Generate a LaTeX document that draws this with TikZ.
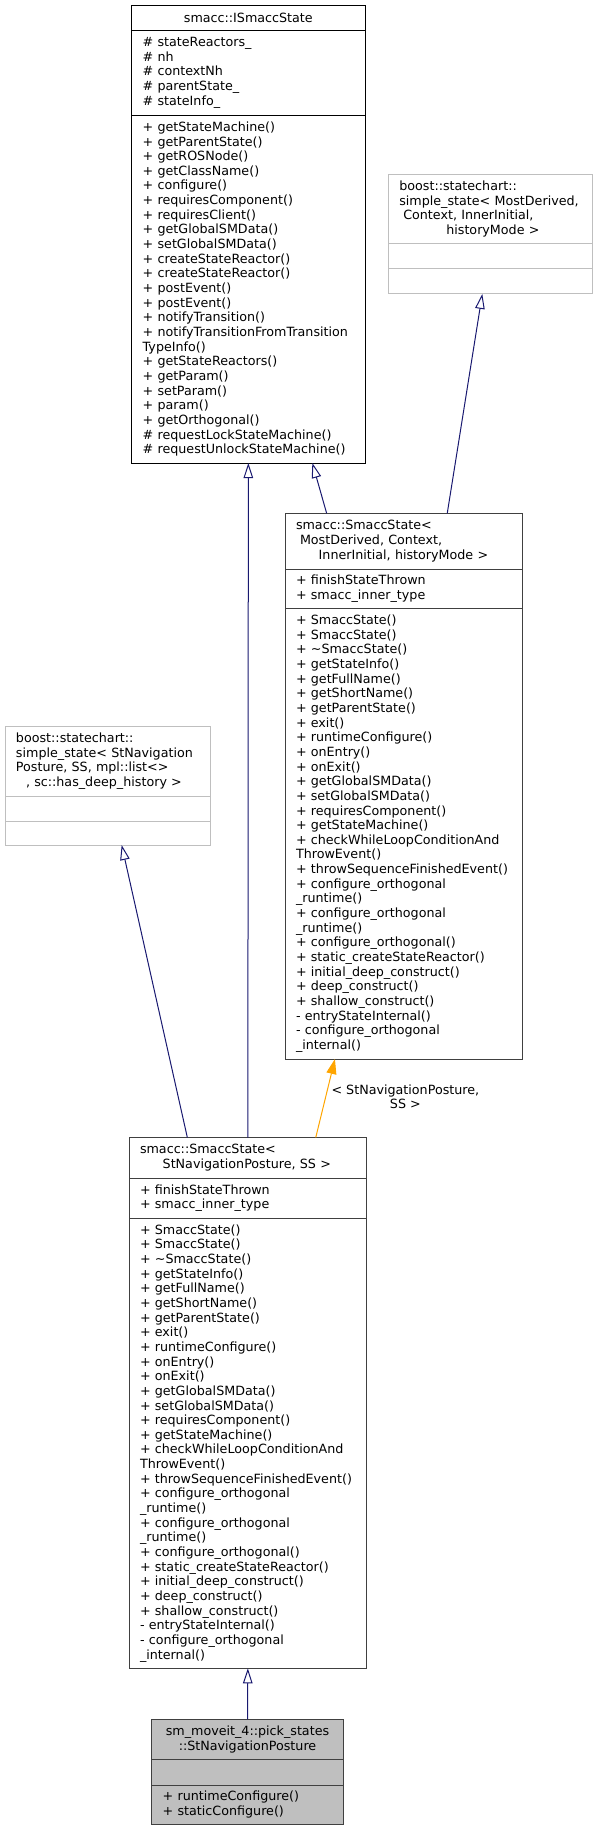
\documentclass[tikz,border=0pt]{standalone}
\usepackage{fontspec}
\setmainfont{DejaVu Sans}
\usetikzlibrary{arrows.meta,positioning}
\usepackage{xcolor}
\definecolor{edgeblue}{HTML}{191970}
\definecolor{edgeorange}{HTML}{FFA500}
\definecolor{boxgray}{HTML}{404040}
\definecolor{faintgray}{HTML}{BFBFBF}
\newcommand\classfont{\fontsize{12.7}{14.65}\selectfont\hyphenpenalty=10000\exhyphenpenalty=10000}

\begin{document}
\begin{tikzpicture}[
  x=1pt, y=-1pt,
  node distance=0pt,
  part/.style={draw=boxgray, line width=1pt, outer sep=0pt,
    inner xsep=11pt, inner ysep=0pt, align=left, text width=#1, font=\classfont},
  faint/.style={draw=faintgray},
  current/.style={fill=faintgray},
  baseedge/.style={draw=edgeblue, line width=1pt,
    -{Triangle[open, length=15pt, width=9.5pt]}},
  tmpledge/.style={draw=edgeorange, line width=1pt,
    -{Triangle[length=15pt, width=10pt]}},
  lbl/.style={font=\classfont, align=center}
]
\useasboundingbox (0,0) rectangle (601,1831);

% smacc::ISmaccState
\node[part=211.3pt, draw=black, align=center, minimum height=25.7pt, anchor=north west] (ismacc) at (131.7,5) {smacc::ISmaccState};
\node[part=211.3pt, draw=black, minimum height=84.3pt, below=of ismacc] (ismaccattr) {\# stateReactors\_\\\# nh\\\# contextNh\\\# parentState\_\\\# stateInfo\_};
\node[part=211.3pt, draw=black, minimum height=348pt, below=of ismaccattr] (ismaccops) {+ getStateMachine()\\+ getParentState()\\+ getROSNode()\\+ getClassName()\\+ configure()\\+ requiresComponent()\\+ requiresClient()\\+ getGlobalSMData()\\+ setGlobalSMData()\\+ createStateReactor()\\+ createStateReactor()\\+ postEvent()\\+ postEvent()\\+ notifyTransition()\\+ notifyTransitionFromTransition\\TypeInfo()\\+ getStateReactors()\\+ getParam()\\+ setParam()\\+ param()\\+ getOrthogonal()\\\# requestLockStateMachine()\\\# requestUnlockStateMachine()};

% boost::statechart::simple_state (generic)
\node[part=182.4pt, faint, minimum height=69.6pt, anchor=north west] (boostr) at (388.3,174.3) {boost::statechart::\\simple\_state< MostDerived,\\\hspace*{4pt}Context, InnerInitial,\\\hspace*{47pt}historyMode >};
\node[part=182.4pt, faint, minimum height=25pt, below=of boostr] (boostrattr) {};
\node[part=182.4pt, faint, minimum height=25pt, below=of boostrattr] (boostrops) {};

% boost::statechart::simple_state (StNavigationPosture)
\node[part=183.7pt, faint, minimum height=70pt, anchor=north west] (boostl) at (5,726) {boost::statechart::\\simple\_state< StNavigation\\Posture, SS, mpl::list<>\\\hspace*{10pt}, sc::has\_deep\_history >};
\node[part=183.7pt, faint, minimum height=25pt, below=of boostl] (boostlattr) {};
\node[part=183.7pt, faint, minimum height=24pt, below=of boostlattr] (boostlops) {};

% smacc::SmaccState< MostDerived, ... >
\node[part=215.3pt, minimum height=55.7pt, anchor=north west] (generic) at (285,513.3) {smacc::SmaccState<\\\hspace*{4pt}MostDerived, Context,\\\hspace*{22.7pt}InnerInitial, historyMode >};
\node[part=215.3pt, minimum height=39.3pt, below=of generic] (genericattr) {+ finishStateThrown\\+ smacc\_inner\_type};
\node[part=215.3pt, minimum height=450.7pt, below=of genericattr] (genericops) {+ SmaccState()\\+ SmaccState()\\+ \textasciitilde SmaccState()\\+ getStateInfo()\\+ getFullName()\\+ getShortName()\\+ getParentState()\\+ exit()\\+ runtimeConfigure()\\+ onEntry()\\+ onExit()\\+ getGlobalSMData()\\+ setGlobalSMData()\\+ requiresComponent()\\+ getStateMachine()\\+ checkWhileLoopConditionAnd\\ThrowEvent()\\+ throwSequenceFinishedEvent()\\+ configure\_orthogonal\\\_runtime()\\+ configure\_orthogonal\\\_runtime()\\+ configure\_orthogonal()\\+ static\_createStateReactor()\\+ initial\_deep\_construct()\\+ deep\_construct()\\+ shallow\_construct()\\- entryStateInternal()\\- configure\_orthogonal\\\_internal()};

% smacc::SmaccState< StNavigationPosture, SS >
\node[part=215.7pt, minimum height=40.8pt, anchor=north west] (navstate) at (129,1137.5) {smacc::SmaccState<\\\hspace*{22.7pt}StNavigationPosture, SS >};
\node[part=215.7pt, minimum height=40pt, below=of navstate] (navstateattr) {+ finishStateThrown\\+ smacc\_inner\_type};
\node[part=215.7pt, minimum height=450pt, below=of navstateattr] (navstateops) {+ SmaccState()\\+ SmaccState()\\+ \textasciitilde SmaccState()\\+ getStateInfo()\\+ getFullName()\\+ getShortName()\\+ getParentState()\\+ exit()\\+ runtimeConfigure()\\+ onEntry()\\+ onExit()\\+ getGlobalSMData()\\+ setGlobalSMData()\\+ requiresComponent()\\+ getStateMachine()\\+ checkWhileLoopConditionAnd\\ThrowEvent()\\+ throwSequenceFinishedEvent()\\+ configure\_orthogonal\\\_runtime()\\+ configure\_orthogonal\\\_runtime()\\+ configure\_orthogonal()\\+ static\_createStateReactor()\\+ initial\_deep\_construct()\\+ deep\_construct()\\+ shallow\_construct()\\- entryStateInternal()\\- configure\_orthogonal\\\_internal()};

% sm_moveit_4::pick_states::StNavigationPosture
\node[part=169.6pt, current, align=center, minimum height=39.7pt, anchor=north west] (posture) at (151.7,1719.3) {sm\_moveit\_4::pick\_states\\::StNavigationPosture};
\node[part=169.6pt, current, minimum height=26pt, below=of posture] (postureattr) {};
\node[part=169.6pt, current, minimum height=39pt, below=of postureattr] (postureops) {+ runtimeConfigure()\\+ staticConfigure()};

\draw[baseedge] (posture.north) -- (navstateops.south);
\draw[baseedge] (navstate.north) -- (ismaccops.south);
\draw[baseedge] ([xshift=-60.5pt]navstate.north) -- ([xshift=13.8pt]boostlops.south);
\draw[baseedge] ([xshift=-77pt]generic.north) -- ([xshift=64pt]ismaccops.south);
\draw[baseedge] ([xshift=43.6pt]generic.north) -- ([xshift=-8.2pt]boostrops.south);
\draw[tmpledge] ([xshift=67.9pt]navstate.north) -- node[lbl, pos=0.52, right=2pt] {< StNavigationPosture,\\SS >} ([xshift=-68.7pt]genericops.south);
\end{tikzpicture}
\end{document}
